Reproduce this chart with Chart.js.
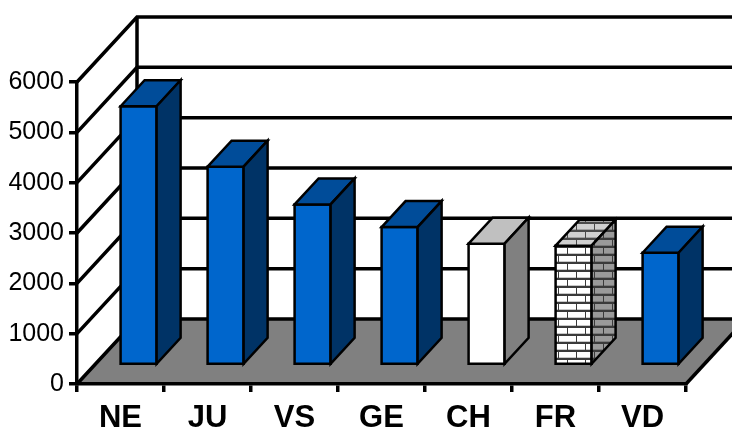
<!DOCTYPE html>
<html>
<head>
<meta charset="utf-8">
<script src="https://cdn.jsdelivr.net/npm/chart.js@4/dist/chart.umd.min.js"></script>
<style>
  html, body { margin: 0; padding: 0; background: #fff; }
  #wrap { width: 732px; height: 429px; }
</style>
</head>
<body>
<div id="wrap"><canvas id="c" width="732" height="429"></canvas></div>
<script>
// Values
const cantons = ["NE", "JU", "VS", "GE", "CH", "FR", "VD"];
const values = [5150, 3950, 3200, 2750, 2420, 2380, 2240];
const yTicks = [0, 1000, 2000, 3000, 4000, 5000, 6000];

// 3D look: back wall offset and where bars sit in depth
const DX = 60, DY = 65;
const BAR_FRONT = 0.285, BAR_DEPTH = 0.4;

function brick(bg, shade, mortar) {
  const c = document.createElement("canvas");
  c.width = 18; c.height = 16;
  const g = c.getContext("2d");
  g.fillStyle = bg; g.fillRect(0, 0, 18, 16);
  g.fillStyle = shade;
  g.fillRect(0, 5, 18, 1); g.fillRect(0, 13, 18, 1);
  g.fillStyle = mortar;
  g.fillRect(0, 6, 18, 2); g.fillRect(0, 14, 18, 2);
  g.fillRect(0, 0, 1, 6); g.fillRect(9, 8, 1, 6);
  return g.createPattern(c, "repeat");
}

const blue = { front: "#0066CC", top: "#004C99", side: "#003366" };
const faces = [
  blue, blue, blue, blue,
  { front: "#FFFFFF", top: "#C0C0C0", side: "#808080" },
  { front: brick("#FFFFFF", "#C8C8C8", "#3A3A3A"),
    top: brick("#D0D0D0", "#A0A0A0", "#4A4A4A"),
    side: brick("#9A9A9A", "#7A7A7A", "#3A3A3A") },
  blue,
];

function poly(ctx, pts, fill) {
  ctx.beginPath();
  ctx.moveTo(pts[0][0], pts[0][1]);
  for (let i = 1; i < pts.length; i++) ctx.lineTo(pts[i][0], pts[i][1]);
  ctx.closePath();
  ctx.fillStyle = fill;
  ctx.fill();
  ctx.stroke();
}

const walls = {
  id: "walls",
  beforeDraw(chart) {
    const { ctx, chartArea: a, scales: { y } } = chart;
    const y0 = y.getPixelForValue(0);
    ctx.save();
    ctx.fillStyle = "#fff";
    ctx.fillRect(0, 0, chart.width, chart.height);
    // floor
    ctx.beginPath();
    ctx.moveTo(a.left, y0);
    ctx.lineTo(a.left + DX, y0 - DY);
    ctx.lineTo(a.right + DX, y0 - DY);
    ctx.lineTo(a.right, y0);
    ctx.closePath();
    ctx.fillStyle = "#808080";
    ctx.fill();
    ctx.strokeStyle = "#000";
    ctx.lineWidth = 3.5;
    ctx.beginPath();
    ctx.moveTo(a.right, y0);
    ctx.lineTo(a.right + DX, y0 - DY);
    ctx.stroke();
    // grid on side and back walls
    yTicks.forEach((v) => {
      const yf = y.getPixelForValue(v);
      ctx.beginPath();
      ctx.moveTo(a.left, yf);
      ctx.lineTo(a.left + DX, yf - DY);
      ctx.lineTo(a.right + DX + 20, yf - DY);
      ctx.stroke();
    });
    ctx.beginPath();
    ctx.moveTo(a.left + DX, a.top - DY);
    ctx.lineTo(a.left + DX, y0 - DY);
    ctx.stroke();
    ctx.restore();
  },
  afterDatasetsDraw(chart) {
    const { ctx } = chart;
    const meta = chart.getDatasetMeta(0);
    const fx = BAR_FRONT * DX + 1, fy = BAR_FRONT * DY;
    const dx = BAR_DEPTH * DX, dy = BAR_DEPTH * DY;
    ctx.save();
    ctx.strokeStyle = "#000";
    ctx.lineWidth = 2.5;
    ctx.lineJoin = "miter";
    meta.data.forEach((el, i) => {
      const p = el.getProps(["x", "y", "base", "width"], true);
      const w = p.width;
      const x0 = p.x - w / 2 + fx;
      const yT = p.y - fy, yB = p.base - fy;
      const f = faces[i];
      poly(ctx, [[x0, yT], [x0 + w, yT], [x0 + w, yB], [x0, yB]], f.front);
      poly(ctx, [[x0, yT], [x0 + dx, yT - dy], [x0 + w + dx, yT - dy], [x0 + w, yT]], f.top);
      poly(ctx, [[x0 + w, yT], [x0 + w + dx, yT - dy], [x0 + w + dx, yB - dy], [x0 + w, yB]], f.side);
    });
    ctx.restore();
  },
};

Chart.defaults.font.family = "'Liberation Sans', Arial, sans-serif";
Chart.defaults.color = "#000";

new Chart(document.getElementById("c"), {
  type: "bar",
  data: {
    labels: cantons,
    datasets: [{
      data: values,
      backgroundColor: "rgba(0,0,0,0)",
      borderWidth: 0,
      categoryPercentage: 1,
      barPercentage: 0.414,
    }],
  },
  options: {
    responsive: false,
    animation: false,
    devicePixelRatio: 1,
    layout: { padding: { top: 82, right: 46, left: 0, bottom: 0 } },
    plugins: { legend: { display: false }, tooltip: { enabled: false } },
    scales: {
      x: {
        offset: true,
        grid: { offset: true, drawOnChartArea: false, tickLength: 8, color: "#000", lineWidth: 3.5 },
        border: { color: "#000", width: 3.5 },
        ticks: { font: { size: 31, weight: "bold" }, padding: 8, maxRotation: 0 },
        afterFit: (s) => { s.height = 45; },
      },
      y: {
        min: 0, max: 6000,
        grid: { drawOnChartArea: false, tickLength: 8, color: "#000", lineWidth: 3.5 },
        border: { color: "#000", width: 3.5 },
        ticks: { stepSize: 1000, font: { size: 25 }, padding: 5, callback: (v) => String(v) },
        afterFit: (s) => { s.width = 77; },
      },
    },
  },
  plugins: [walls],
});
</script>
</body>
</html>
